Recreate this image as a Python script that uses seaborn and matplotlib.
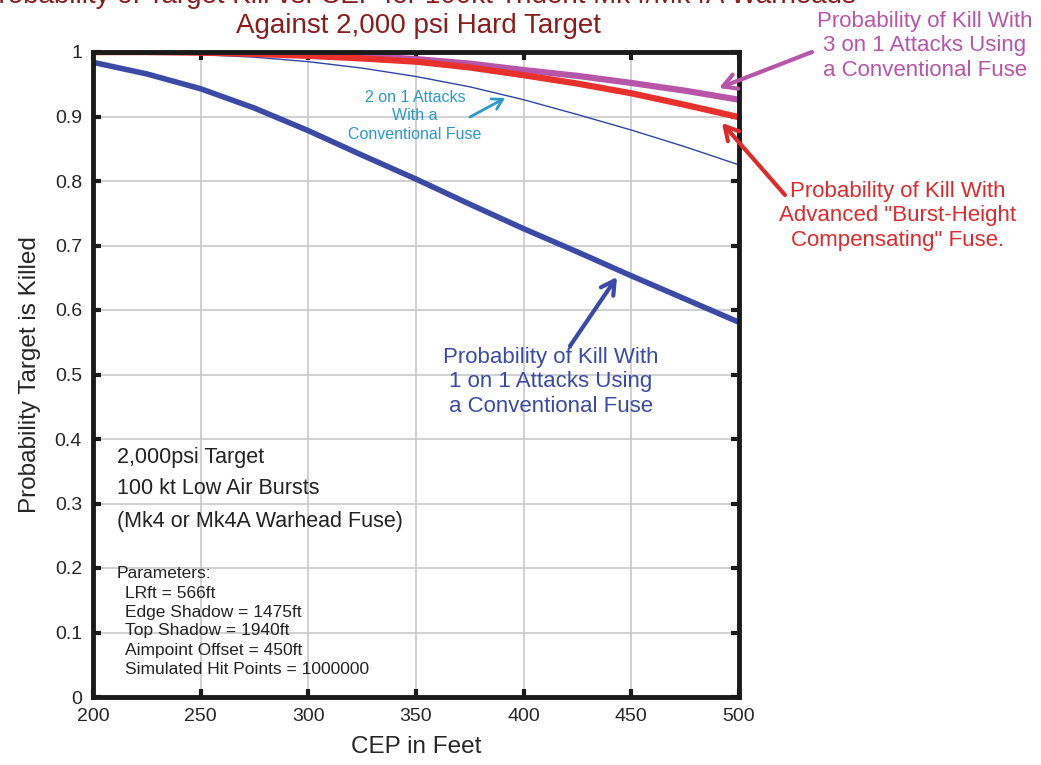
import matplotlib
matplotlib.use("Agg")
import matplotlib.pyplot as plt
import seaborn as sns
import pandas as pd

cep = [200, 225, 250, 275, 300, 325, 350, 375, 400, 425, 450, 475, 500]
p_1on1 = [0.984, 0.966, 0.943, 0.913, 0.878, 0.840, 0.803, 0.764, 0.726, 0.690, 0.653, 0.617, 0.581]
p_2on1 = [1.000, 0.999, 0.996, 0.992, 0.985, 0.975, 0.962, 0.946, 0.926, 0.903, 0.879, 0.853, 0.825]
p_adv = [1.000, 1.000, 0.999, 0.997, 0.994, 0.990, 0.985, 0.976, 0.964, 0.951, 0.936, 0.918, 0.899]
p_3on1 = [1.000, 1.000, 1.000, 0.999, 0.997, 0.994, 0.989, 0.982, 0.972, 0.963, 0.952, 0.940, 0.926]

x_ticks = [200, 250, 300, 350, 400, 450, 500]
y_ticks = [0, 0.1, 0.2, 0.3, 0.4, 0.5, 0.6, 0.7, 0.8, 0.9, 1.0]
y_tick_labels = ["0", "0.1", "0.2", "0.3", "0.4", "0.5", "0.6", "0.7", "0.8", "0.9", "1"]

sns.set_theme(style="white")
plt.rcParams['font.family'] = ['Liberation Sans', 'DejaVu Sans']

df = pd.concat([
    pd.DataFrame({"cep": cep, "p": p_1on1, "s": "1on1"}),
    pd.DataFrame({"cep": cep, "p": p_2on1, "s": "2on1"}),
    pd.DataFrame({"cep": cep, "p": p_adv, "s": "adv"}),
    pd.DataFrame({"cep": cep, "p": p_3on1, "s": "3on1"}),
])

W, H = 1041, 765
fig = plt.figure(figsize=(W / 100, H / 100), dpi=100)
ax = fig.add_axes([93 / W, 1 - 697 / H, (739 - 93) / W, (697 - 52) / H])

BLUE = "#3a4aa6"
THIN = "#2f45a8"
RED = "#e8302c"
RED_TXT = "#dd2a2a"
PURP = "#b755a9"
CYAN = "#2a98c8"
TITLE = "#8b1c1c"

styles = {"3on1": (PURP, 4.5), "adv": (RED, 4.5), "2on1": (THIN, 1.0), "1on1": (BLUE, 4.0)}
for key in ["2on1", "3on1", "adv", "1on1"]:
    c, lw = styles[key]
    sns.lineplot(data=df[df.s == key], x="cep", y="p", ax=ax, color=c, lw=lw,
                 solid_capstyle="butt", zorder=3)

ax.set_xlim(200, 500)
ax.set_ylim(0, 1)
ax.set_xticks(x_ticks)
ax.set_yticks(y_ticks)
ax.set_yticklabels(y_tick_labels)
ax.grid(True, color="#c8c8c8", lw=1.2)
for sp in ax.spines.values():
    sp.set_color("#1a1a1a")
    sp.set_linewidth(3.5)
    sp.set_zorder(5)
ax.tick_params(axis="both", direction="in", length=6, width=3, color="#1a1a1a",
               labelsize=14, top=True, right=True, bottom=True, left=True,
               labeltop=False, labelright=False, pad=8)
ax.set_xlabel("CEP in Feet", fontsize=17.5, labelpad=8)
ax.set_ylabel("Probability Target is Killed", fontsize=17.5, labelpad=10)


def fp(x, y):
    return (x / W, 1 - y / H)


fig.text(*fp(418, -4), "Probability of Target Kill vs. CEP for 100kt Trident Mk4/Mk4A Warheads",
         ha="center", va="center", fontsize=20, color=TITLE)
fig.text(*fp(418, 26), "Against 2,000 psi Hard Target", ha="center", va="center",
         fontsize=20, color=TITLE)


def arrow(tail, head, color, lw, hl=0.8, hw=0.45):
    ax.annotate("", xy=fp(*head), xycoords="figure fraction",
                xytext=fp(*tail), textcoords="figure fraction",
                arrowprops=dict(arrowstyle=f"->,head_length={hl},head_width={hw}",
                                color=color, lw=lw, shrinkA=0, shrinkB=0),
                zorder=6)


fig.text(*fp(925, 46), "Probability of Kill With\n3 on 1 Attacks Using\na Conventional Fuse",
         ha="center", va="center", fontsize=16, color=PURP, linespacing=1.2)
arrow((812, 52), (719, 88), PURP, 3)

fig.text(*fp(898, 216), "Probability of Kill With\nAdvanced \"Burst-Height\nCompensating\" Fuse.",
         ha="center", va="center", fontsize=16, color=RED_TXT, linespacing=1.2)
arrow((785, 195), (722, 123), RED_TXT, 3)

fig.text(*fp(551, 382), "Probability of Kill With\n1 on 1 Attacks Using\na Conventional Fuse",
         ha="center", va="center", fontsize=16, color=BLUE, linespacing=1.2)
arrow((570, 346), (617, 277), BLUE, 3)

fig.text(*fp(415, 116), "2 on 1 Attacks\nWith a\nConventional Fuse",
         ha="center", va="center", fontsize=11.5, color=CYAN, linespacing=1.3)
arrow((470, 117), (505, 98), CYAN, 2, hl=0.6, hw=0.35)

for y, t in [(457, "2,000psi Target"), (489, "100 kt Low Air Bursts"), (521, "(Mk4 or Mk4A Warhead Fuse)")]:
    fig.text(*fp(117, y), t, ha="left", va="center", fontsize=15.5, color="#222222")

fig.text(*fp(117, 573), "Parameters:", ha="left", va="center", fontsize=12.5, color="#222222")
params = ["LRft = 566ft", "Edge Shadow = 1475ft", "Top Shadow = 1940ft",
          "Aimpoint Offset = 450ft", "Simulated Hit Points = 1000000"]
for i, t in enumerate(params):
    fig.text(*fp(125, 593 + 19 * i), t, ha="left", va="center", fontsize=12.5, color="#222222")

fig.savefig("out.png", dpi=100)
